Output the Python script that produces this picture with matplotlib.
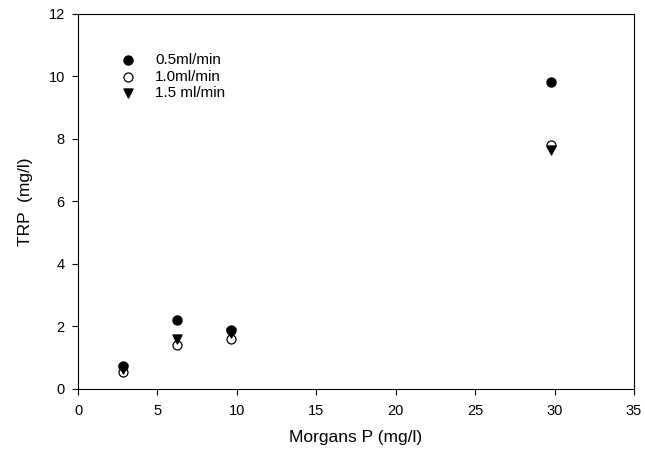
import matplotlib
matplotlib.use("Agg")
from matplotlib import pyplot as plt

plt.rcParams['font.family'] = ['Liberation Sans', 'DejaVu Sans']

# Morgans P values (mg/l)
morgans_p = [2.8, 6.2, 9.6, 29.8]

# TRP (mg/l) at each flow rate
trp_05 = [0.72, 2.2, 1.9, 9.82]
trp_10 = [0.55, 1.4, 1.6, 7.8]
trp_15 = [0.65, 1.6, 1.8, 7.65]

labels = ['0.5ml/min', '1.0ml/min', '1.5 ml/min']
x_ticks = [0, 5, 10, 15, 20, 25, 30, 35]
y_ticks = [0, 2, 4, 6, 8, 10, 12]

fig = plt.figure(figsize=(6.45, 4.51), dpi=100)
ax = fig.add_axes([0.121, 0.1375, 0.862, 0.8315])

# draw order: open circle, triangle, then filled circle on top
h10 = ax.scatter(morgans_p, trp_10, s=42, facecolors='white', edgecolors='black',
                 linewidths=0.9, zorder=3, label=labels[1])
h15 = ax.scatter(morgans_p, trp_15, s=42, marker='v', color='black', zorder=4, label=labels[2])
h05 = ax.scatter(morgans_p, trp_05, s=42, color='black', zorder=5, label=labels[0])

ax.set_xlim(0, 35)
ax.set_ylim(0, 12)
ax.set_xticks(x_ticks)
ax.set_yticks(y_ticks)
ax.tick_params(direction='out', length=4.5, width=0.8, labelsize=10.5, top=False, right=False)
ax.tick_params(axis='x', pad=6)
ax.tick_params(axis='y', pad=5)
for sp in ax.spines.values():
    sp.set_linewidth(0.8)

ax.set_xlabel('Morgans P (mg/l)', fontsize=12.5, labelpad=9)
ax.set_ylabel('TRP  (mg/l)', fontsize=12.5, labelpad=11)

leg = ax.legend(handles=[h05, h10, h15], labels=labels, loc='upper left',
                bbox_to_anchor=(0.063, 0.895), frameon=False, fontsize=11,
                handletextpad=0.75, labelspacing=0.15, borderaxespad=0, borderpad=0)

plt.savefig('out.png', dpi=100)
plt.close()
